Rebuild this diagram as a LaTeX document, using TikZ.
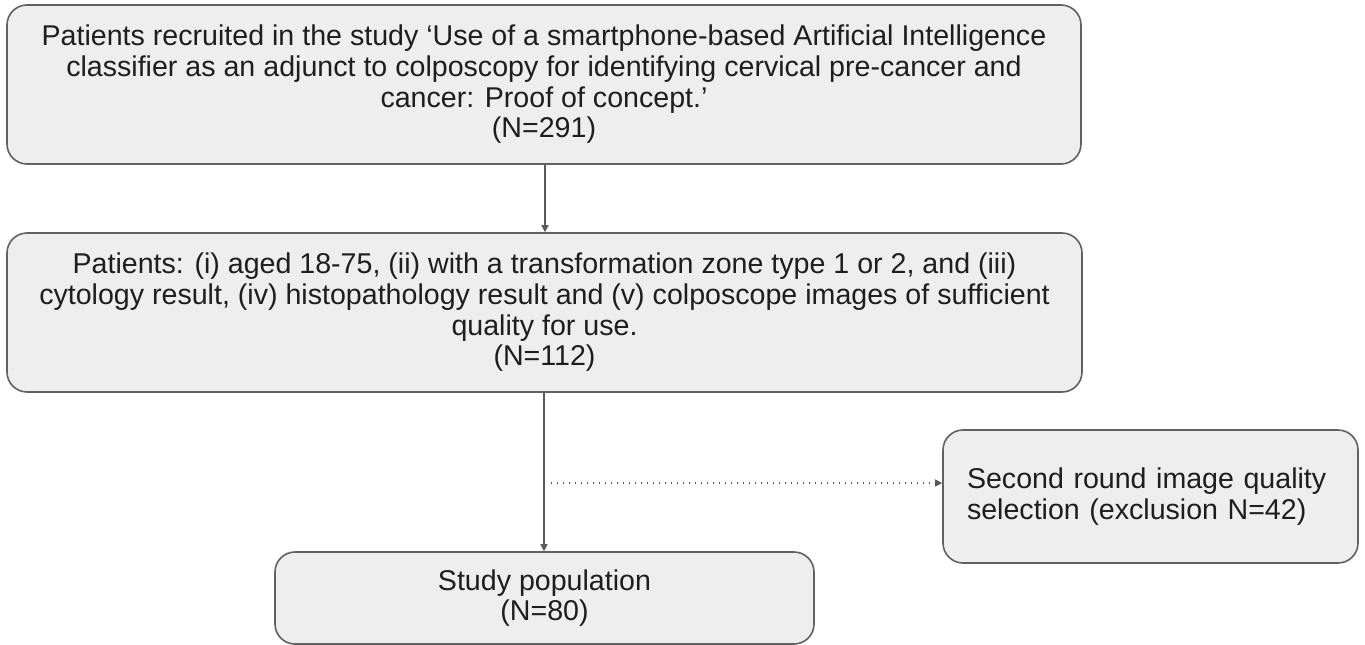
\documentclass[tikz,border=0pt]{standalone}
\usepackage{fontspec}
\setmainfont{Liberation Sans}
\usetikzlibrary{arrows.meta}
\definecolor{boxfill}{HTML}{EEEEEE}
\definecolor{boxline}{HTML}{616161}
\definecolor{txt}{HTML}{1E1E1E}
\definecolor{arr}{HTML}{5A5A5A}
\tikzset{
  flowbox/.style={draw=boxline, line width=1.6pt, fill=boxfill, rounded corners=20pt,
    text=txt, align=center, inner sep=0pt,
    font=\fontsize{28.6}{30.7}\selectfont},
  flowarrow/.style={draw=arr, line width=1.3pt, -{Triangle[width=7pt,length=7pt]}},
  dotarrow/.style={draw=arr, line width=1.2pt, dash pattern=on 1.2pt off 4.8pt, -{Triangle[width=7pt,length=7pt]}}
}
\begin{document}
\begin{tikzpicture}[x=1pt,y=-1pt]
\useasboundingbox (0,0) rectangle (1365,645);
\node[flowbox, minimum width=1074pt, minimum height=159pt] (a) at (544,84.5)
  {Patients recruited in the study ‘Use of a smartphone-based Artificial Intelligence\\
   classifier as an adjunct to colposcopy for identifying cervical pre-cancer and\\
   cancer: Proof of concept.’\\ (N=291)};
\node[flowbox, minimum width=1075pt, minimum height=159pt] (b) at (544.5,312.5)
  {Patients: (i) aged 18-75, (ii) with a transformation zone type 1 or 2, and (iii)\\
   cytology result, (iv) histopathology result and (v) colposcope images of sufficient\\
   quality for use.\\ (N=112)};
\node[flowbox, minimum width=539pt, minimum height=92pt] (c) at (544.5,598)
  {Study population\\ (N=80)};
\node[flowbox, minimum width=415pt, minimum height=133pt, align=left, text width=367pt] (d) at (1150.5,496.5)
  {Second round image quality\\ selection (exclusion N=42)};
\coordinate (s) at (551,483);
\draw[flowarrow] (a.south -| 545,0) -- (b.north -| 545,0);
\draw[flowarrow] (b.south -| 544,0) -- (c.north -| 544,0);
\draw[dotarrow] (s) -- (d.west |- s);
\end{tikzpicture}
\end{document}
